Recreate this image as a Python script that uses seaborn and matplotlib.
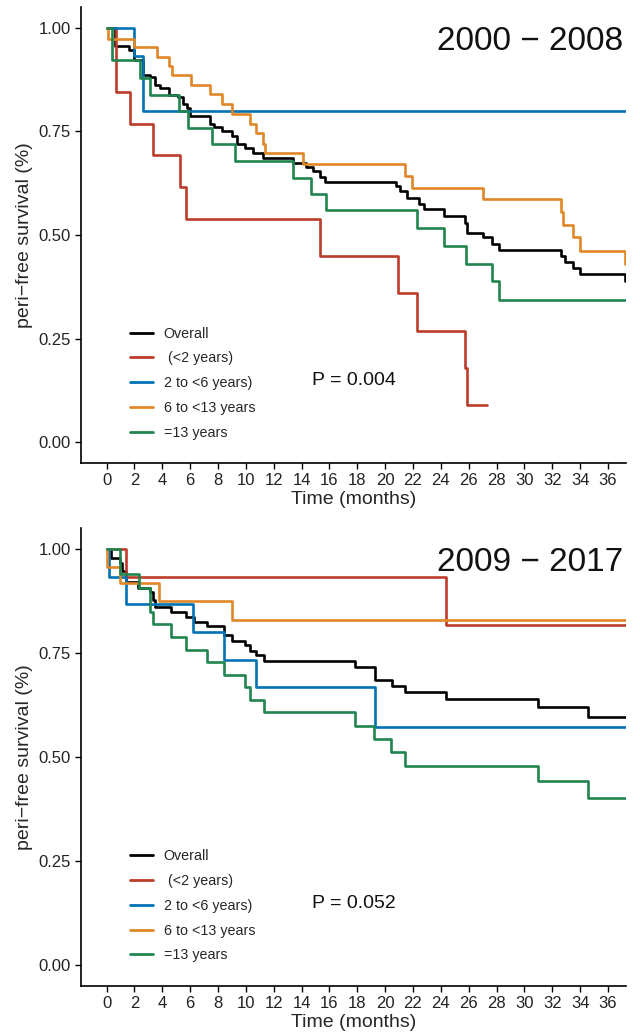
import pandas as pd
import numpy as np
import matplotlib
matplotlib.use('Agg')
import matplotlib.pyplot as plt
from matplotlib.lines import Line2D
import seaborn as sns

# group names as they appear in the legend
groups = ['Overall', ' (<2 years)', '2 to <6 years)', '6 to <13 years', '=13 years']
colors = ['#000000', '#BC3C29', '#0072B5', '#E18727', '#20854E']

# ---- 2000 - 2008 : step change points (months, survival) ----
t1_all = [0, 0.6, 1.6, 2.0, 2.6, 3.1, 3.45, 3.8, 4.5, 5.1, 5.5, 5.8, 6.0, 7.4, 7.7, 8.3, 9.0,
          9.35, 9.9, 10.5, 11.2, 13.4, 14.3, 14.8, 15.3, 15.7, 20.8, 21.1, 21.6, 22.4, 22.8,
          24.2, 25.7, 25.9, 27.0, 27.7, 28.2, 32.6, 32.9, 33.5, 34.0, 37.2, 37.3]
s1_all = [1.0, 0.956, 0.946, 0.922, 0.886, 0.882, 0.862, 0.854, 0.838, 0.834, 0.815, 0.807, 0.786,
          0.767, 0.760, 0.750, 0.740, 0.719, 0.710, 0.698, 0.686, 0.674, 0.664, 0.654, 0.640, 0.628,
          0.618, 0.606, 0.590, 0.575, 0.562, 0.546, 0.530, 0.506, 0.494, 0.479, 0.464, 0.449, 0.434,
          0.421, 0.407, 0.389, 0.389]
t1_lt2 = [0, 0.7, 1.7, 3.3, 5.3, 5.7, 15.3, 20.95, 22.3, 25.75, 25.9, 27.3]
s1_lt2 = [1.0, 0.846, 0.769, 0.692, 0.615, 0.538, 0.449, 0.359, 0.269, 0.179, 0.090, 0.090]
t1_2to6 = [0, 2.0, 2.6, 37.3]
s1_2to6 = [1.0, 0.933, 0.800, 0.800]
t1_6to13 = [0, 0.1, 1.95, 3.6, 4.5, 4.7, 6.05, 7.4, 8.3, 9.0, 10.3, 10.7, 11.2, 11.35, 14.1,
            21.45, 21.9, 27.0, 32.6, 32.75, 33.5, 34.0, 37.2, 37.3]
s1_6to13 = [1.0, 0.974, 0.954, 0.930, 0.908, 0.886, 0.862, 0.840, 0.817, 0.793, 0.769, 0.746,
            0.720, 0.698, 0.671, 0.643, 0.614, 0.586, 0.556, 0.524, 0.494, 0.462, 0.430, 0.430]
t1_ge13 = [0, 0.35, 2.4, 3.1, 5.2, 5.85, 7.6, 9.25, 13.4, 14.7, 15.75, 22.3, 24.2, 25.8, 27.7,
           28.2, 37.3]
s1_ge13 = [1.0, 0.922, 0.878, 0.838, 0.798, 0.758, 0.720, 0.678, 0.638, 0.598, 0.560, 0.516,
           0.474, 0.431, 0.388, 0.344, 0.344]

# ---- 2009 - 2017 ----
t2_all = [0, 0.3, 0.94, 1.1, 1.4, 2.25, 3.1, 3.3, 3.5, 4.6, 5.7, 6.3, 7.2, 8.4, 9.0, 9.9, 10.3,
          10.7, 11.3, 17.8, 19.3, 20.5, 21.4, 24.4, 31.0, 34.6, 37.3]
s2_all = [1.0, 0.978, 0.966, 0.946, 0.921, 0.907, 0.897, 0.877, 0.861, 0.849, 0.837, 0.825, 0.815,
          0.793, 0.779, 0.769, 0.755, 0.744, 0.731, 0.717, 0.685, 0.671, 0.655, 0.639, 0.619,
          0.597, 0.597]
t2_lt2 = [0, 1.37, 24.4, 37.3]
s2_lt2 = [1.0, 0.933, 0.817, 0.817]
t2_2to6 = [0, 0.17, 1.4, 6.2, 8.4, 10.7, 19.3, 37.3]
s2_2to6 = [1.0, 0.933, 0.867, 0.800, 0.733, 0.667, 0.571, 0.571]
t2_6to13 = [0, 0.05, 0.94, 3.75, 9.0, 37.3]
s2_6to13 = [1.0, 0.957, 0.917, 0.875, 0.829, 0.829]
t2_ge13 = [0, 0.94, 2.3, 3.1, 3.3, 4.6, 5.7, 7.2, 8.4, 9.9, 10.3, 11.3, 17.8, 19.2, 20.4, 21.4,
           31.0, 34.6, 37.3]
s2_ge13 = [1.0, 0.939, 0.907, 0.848, 0.819, 0.787, 0.757, 0.727, 0.697, 0.667, 0.637, 0.607,
           0.575, 0.543, 0.511, 0.478, 0.443, 0.402, 0.402]

panels = ['2000 − 2008', '2009 − 2017']
pvalues = ['P = 0.004', 'P = 0.052']
curves = {
    panels[0]: [(t1_all, s1_all), (t1_lt2, s1_lt2), (t1_2to6, s1_2to6), (t1_6to13, s1_6to13), (t1_ge13, s1_ge13)],
    panels[1]: [(t2_all, s2_all), (t2_lt2, s2_lt2), (t2_2to6, s2_2to6), (t2_6to13, s2_6to13), (t2_ge13, s2_ge13)],
}

rows = []
for p in panels:
    for g, (t, s) in zip(groups, curves[p]):
        for ti, si in zip(t, s):
            rows.append({'panel': p, 'group': g, 'time': ti, 'surv': si})
df = pd.DataFrame(rows)

sns.set_style('ticks')
plt.rcParams['font.family'] = ['Liberation Sans', 'DejaVu Sans']

fig = plt.figure(figsize=(6.4, 10.35), dpi=100)
ax_pos = [[0.1266, 0.5527, 0.8516, 0.4405], [0.1266, 0.0473, 0.8516, 0.4426]]
palette = dict(zip(groups, colors))

for i, p in enumerate(panels):
    ax = fig.add_axes(ax_pos[i])
    sub = df[df['panel'] == p]
    sns.lineplot(data=sub, x='time', y='surv', hue='group', hue_order=groups, palette=palette,
                 drawstyle='steps-post', estimator=None, legend=False, linewidth=1.9, ax=ax)
    ax.set_xlim(-1.84, 37.3)
    ax.set_ylim(-0.05, 1.05)
    ax.set_xticks(np.arange(0, 37, 2))
    ax.set_yticks([0, 0.25, 0.5, 0.75, 1.0])
    ax.set_yticklabels(['0.00', '0.25', '0.50', '0.75', '1.00'])
    ax.tick_params(labelsize=12, length=4, width=1, color='black', labelcolor='#222222')
    ax.set_xlabel('Time (months)', fontsize=14, labelpad=2)
    ax.set_ylabel('peri−free survival (%)', fontsize=14, labelpad=4)
    for sp in ['top', 'right']:
        ax.spines[sp].set_visible(False)
    for sp in ['left', 'bottom']:
        ax.spines[sp].set_linewidth(1.2)
        ax.spines[sp].set_color('black')
    ax.text(0.995, 0.925, p, transform=ax.transAxes, ha='right', va='center', fontsize=24,
            color='#111111')
    ax.text(0.50, 0.18, pvalues[i], transform=ax.transAxes, ha='center', va='center',
            fontsize=14, color='#111111')
    handles = [Line2D([0], [0], color=c, linewidth=2) for c in colors]
    ax.legend(handles, groups, loc='center left', bbox_to_anchor=(0.09, 0.175), frameon=False,
              fontsize=10.3, handlelength=1.6, handletextpad=0.75, labelspacing=0.75,
              borderpad=0, borderaxespad=0)

fig.savefig('out.png', dpi=100)
